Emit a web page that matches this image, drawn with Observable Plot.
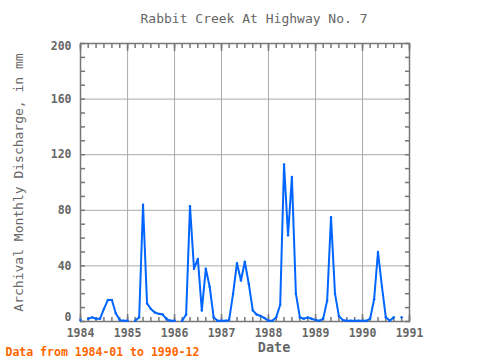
<!DOCTYPE html>
<html>
<head>
<meta charset="utf-8">
<script src="https://cdn.jsdelivr.net/npm/d3@7"></script>
<script src="https://cdn.jsdelivr.net/npm/@observablehq/plot@0.6"></script>
<style>
  html, body { margin: 0; padding: 0; background: white; }
</style>
</head>
<body>
<div id="chart"></div>
<script>
const title = "Rabbit Creek At Highway No. 7";
const caption = "Data from 1984-01 to 1990-12";
const xLabel = "Date";
const yLabel = "Archival Monthly Discharge, in mm";

const years = [1984, 1985, 1986, 1987, 1988, 1989, 1990];
const v1984 = [1, NaN, 2, 3, 2, 2, 9, 15.5, 15.5, 6, 1, 0.5];
const v1985 = [0.5, NaN, 0.5, 3, 84, 13, 9, 6.5, 5.5, 5, 1.5, 0.5];
const v1986 = [0.5, NaN, 0.5, 5, 83, 38, 45, 8, 38, 25, 3, 0.5];
const v1987 = [0.5, 0.5, 1, 20, 42, 29.5, 43, 27, 8, 5, 4, 2.5];
const v1988 = [0.5, 0.5, 3, 12, 113, 62, 104, 20, 3, 2, 3, 2];
const v1989 = [1, 0.5, 2, 15, 75, 20, 4, 1, 0.5, 0.5, 0.5, 0.5];
const v1990 = [0.5, 0.5, 2, 16, 50, 25, 3, 0.5, 3, NaN, 3, NaN];
const yearValues = [v1984, v1985, v1986, v1987, v1988, v1989, v1990];

const yTickLabels = [0, 40, 80, 120, 160, 200];
const xTickYears = [1984, 1985, 1986, 1987, 1988, 1989, 1990, 1991];

const data = [];
years.forEach((yr, i) => {
  yearValues[i].forEach((v, m) => {
    data.push({date: new Date(Date.UTC(yr, m, 1)), value: v});
  });
});

const yearDates = xTickYears.map(y => new Date(Date.UTC(y, 0, 1)));
const minorX = d3.utcMonth.every(2).range(yearDates[0], new Date(Date.UTC(1991, 0, 2)));
const minorY = d3.range(0, 201, 10);

const gray = "#666";
const blue = "#0066ff";
const font = "DejaVu Sans Mono";
const tickStroke = {stroke: "#777", strokeWidth: 1.5, label: null};
const yLab = {anchor: "left", tickSize: 0, tickPadding: 9, fontSize: 11.5, fill: gray, fontWeight: "bold", label: null};

const chart = Plot.plot({
  width: 480,
  height: 360,
  marginLeft: 80,
  marginRight: 71,
  marginTop: 43,
  marginBottom: 39,
  style: {fontFamily: font, color: gray, background: "white", overflow: "visible"},
  x: {type: "utc", domain: [yearDates[0], yearDates[yearDates.length - 1]]},
  y: {domain: [0, 200]},
  marks: [
    Plot.gridX(yearDates, {stroke: "#aaa", strokeOpacity: 1, strokeWidth: 1}),
    Plot.gridY(yTickLabels, {stroke: "#aaa", strokeOpacity: 1, strokeWidth: 1}),
    // minor ticks pointing inward
    Plot.axisX(minorX, {anchor: "bottom", tickSize: -4, text: null, ...tickStroke}),
    Plot.axisX(minorX, {anchor: "top", tickSize: -4, text: null, ...tickStroke}),
    Plot.axisX(yearDates, {anchor: "bottom", tickSize: -7, text: null, ...tickStroke}),
    Plot.axisX(yearDates, {anchor: "top", tickSize: -7, text: null, ...tickStroke}),
    Plot.axisY(minorY, {anchor: "left", tickSize: -5, text: null, ...tickStroke}),
    Plot.axisY(minorY, {anchor: "right", tickSize: -5, text: null, ...tickStroke}),
    // tick labels
    Plot.axisX(yearDates, {anchor: "bottom", tickSize: 0, tickPadding: 7, tickFormat: d => String(d.getUTCFullYear()), fontSize: 11.5, fill: gray, fontWeight: "bold", label: null}),
    Plot.axisY(yTickLabels.slice(0, 1), {...yLab, dy: -4}),
    Plot.axisY(yTickLabels.slice(1, -1), yLab),
    Plot.axisY(yTickLabels.slice(-1), {...yLab, dy: 3}),
    Plot.frame({stroke: "#777", strokeWidth: 1.5}),
    Plot.line(data, {x: "date", y: "value", stroke: blue, strokeWidth: 2}),
    Plot.dot(data.filter(d => !isNaN(d.value)), {x: "date", y: "value", r: 1.2, fill: blue, stroke: null}),
    // texts
    Plot.text([title], {frameAnchor: "top", dx: 9, dy: -25, lineAnchor: "middle", fontSize: 13, fill: gray, fontFamily: font}),
    Plot.text([xLabel], {frameAnchor: "bottom", dx: 29, dy: 26, lineAnchor: "middle", fontSize: 13.5, fontWeight: "bold", fill: gray, fontFamily: font}),
    Plot.text([yLabel], {frameAnchor: "left", dx: -62, rotate: -90, textAnchor: "middle", lineAnchor: "middle", fontSize: 13, fill: gray, fontFamily: font}),
    Plot.text([caption], {frameAnchor: "bottom-left", dx: -75, dy: 31, textAnchor: "start", lineAnchor: "middle", fontSize: 11.5, fontWeight: "bold", fill: "#ff6600", fontFamily: font})
  ]
});
document.getElementById("chart").appendChild(chart);
</script>
</body>
</html>
